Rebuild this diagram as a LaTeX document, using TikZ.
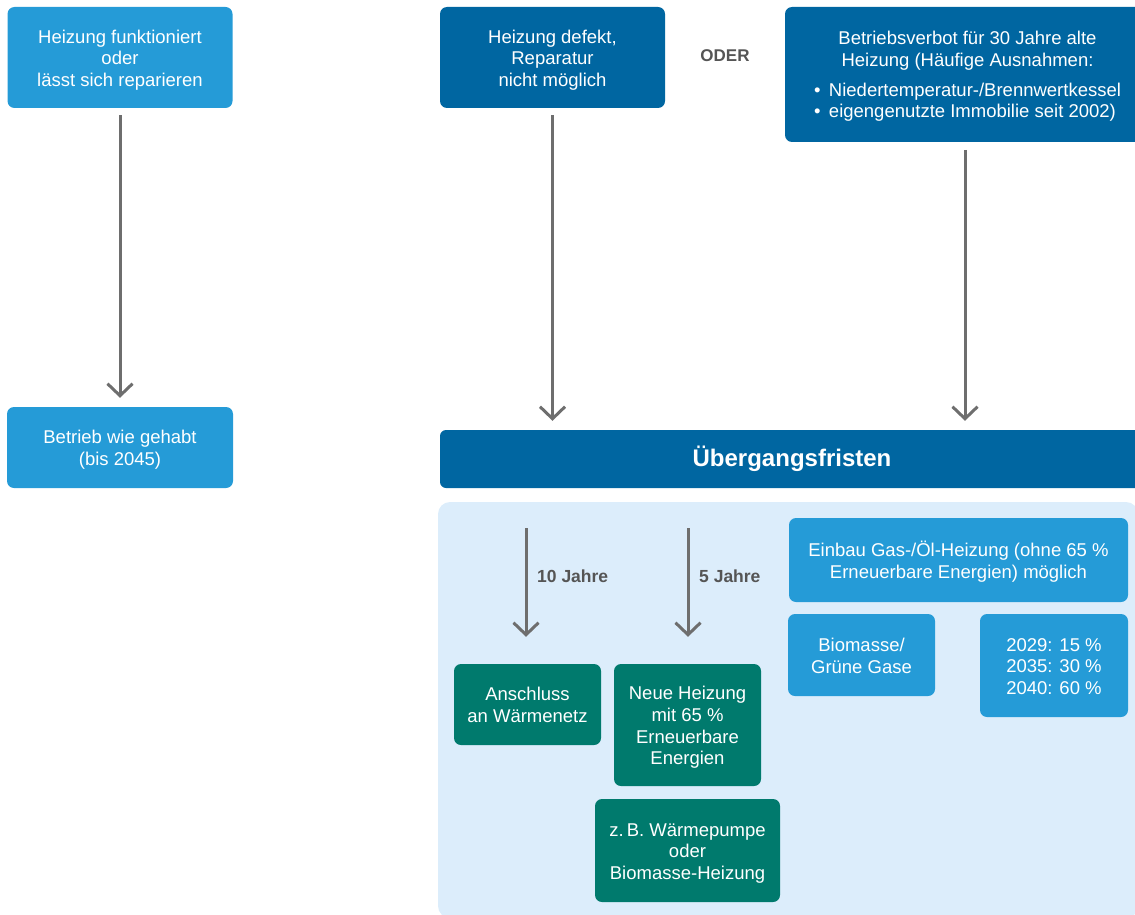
\documentclass[tikz,border=0pt]{standalone}
\usepackage{fontspec}
\setmainfont{Liberation Sans}
\usetikzlibrary{arrows.meta}
\definecolor{lblue}{HTML}{259BD7}
\definecolor{dblue}{HTML}{0066A1}
\definecolor{dgreen}{HTML}{007A6D}
\definecolor{panel}{HTML}{DCEDFB}
\definecolor{agray}{HTML}{6E6E6E}
\definecolor{tgray}{HTML}{555555}
\newcommand{\boxtxt}[1]{\raisebox{-3pt}[\height][\depth]{\begin{tabular}{@{}c@{}}#1\end{tabular}}}
\tikzset{
  box/.style={rounded corners=7pt, inner sep=0pt, align=center, text=white,
    font=\fontsize{18.5}{21.7}\selectfont},
  lbox/.style={box, fill=lblue},
  dbox/.style={box, fill=dblue},
  gbox/.style={box, fill=dgreen},
  arr/.style={draw=agray, line width=3pt, -{Straight Barb[length=12pt, width=25pt, line width=3pt]}},
  lab/.style={text=tgray, font=\bfseries\fontsize{17.5}{20}\selectfont, anchor=west, inner sep=0pt}
}
\begin{document}
\begin{tikzpicture}[x=1pt, y=-1pt]
\useasboundingbox (0,0) rectangle (1135,915);
\clip (0,0) rectangle (1135,915);
% panel
\node[fill=panel, rounded corners=12pt, minimum width=700pt, minimum height=416pt, inner sep=0pt] (panel) at (788,710) {};
% top row
\node[lbox, minimum width=225pt, minimum height=101pt] (A) at (120,57.5) {\boxtxt{Heizung funktioniert\\oder\\lässt sich reparieren}};
\node[lbox, minimum width=226pt, minimum height=81pt] (B) at (120,447.5) {\boxtxt{Betrieb wie gehabt\\(bis 2045)}};
\node[dbox, minimum width=225pt, minimum height=101pt] (C) at (552.5,57.5) {\boxtxt{Heizung defekt,\\Reparatur\\nicht möglich}};
\node[text=tgray, font=\bfseries\fontsize{17}{20}\selectfont, inner sep=0pt] (oder) at (725,56) {ODER};
\node[dbox, minimum width=365pt, minimum height=135pt] (D) at (967.5,74.5) {%
  \raisebox{-2.5pt}[\height][\depth]{\begin{tabular}{@{}l@{}}
  \multicolumn{1}{@{}c@{}}{Betriebsverbot für 30 Jahre alte}\\
  \multicolumn{1}{@{}c@{}}{Heizung (Häufige Ausnahmen:}\\[8pt]
  \makebox[15pt][l]{•}Niedertemperatur-/Brennwertkessel\\
  \makebox[15pt][l]{•}eigengenutzte Immobilie seit 2002)
  \end{tabular}}};
\node[dbox, rounded corners=6pt, minimum width=710pt, minimum height=58pt, font=\bfseries\fontsize{24}{28}\selectfont] (bar) at (795,459) {\hspace*{-6pt}Übergangsfristen};
% arrows top
\draw[arr, shorten <=7pt, shorten >=9pt] (A) -- (B);
\draw[arr, shorten <=7pt, shorten >=9pt] (C.south) -- (C.south |- bar.north);
\coordinate (dtop) at (965,142);
\draw[arr, shorten <=8pt, shorten >=9pt] (dtop) -- (dtop |- bar.north);
% inner boxes
\node[lbox, minimum width=339pt, minimum height=84pt] (einbau) at (958.5,560) {\boxtxt{Einbau Gas-/Öl-Heizung (ohne 65 \%\\Erneuerbare Energien) möglich}};
\node[lbox, minimum width=147pt, minimum height=82pt] (bio) at (861.5,655) {\boxtxt{Biomasse/\\Grüne Gase}};
\node[lbox, minimum width=148pt, minimum height=103pt] (quote) at (1054,665.5) {\boxtxt{2029: 15 \%\\2035: 30 \%\\2040: 60 \%}};
\node[gbox, minimum width=147pt, minimum height=81pt] (ansch) at (527.5,704.5) {\boxtxt{Anschluss\\an Wärmenetz}};
\node[gbox, minimum width=147pt, minimum height=122pt] (neu) at (687.5,725) {\boxtxt{Neue Heizung\\mit 65 \%\\Erneuerbare\\Energien}};
\node[gbox, minimum width=185pt, minimum height=103pt] (zb) at (687.5,850.5) {\boxtxt{z.\,B. Wärmepumpe\\oder\\Biomasse-Heizung}};
% inner arrows
\coordinate (s10) at (526,528);
\coordinate (s5) at (688,528);
\draw[arr, shorten >=27pt] (s10) -- (s10 |- ansch.north);
\draw[arr, shorten >=27pt] (s5) -- (s5 |- neu.north);
\node[lab] (l10) at (537,576) {10 Jahre};
\node[lab] (l5) at (699,576) {5 Jahre};
\end{tikzpicture}
\end{document}
